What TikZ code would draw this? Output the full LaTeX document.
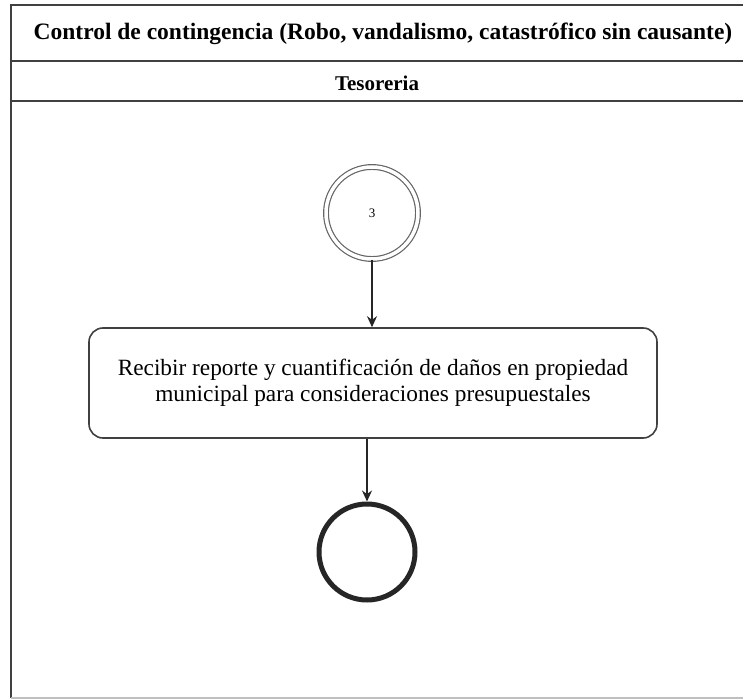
\documentclass[tikz,border=0pt]{standalone}
\usepackage{fontspec}
\setmainfont{Liberation Serif}
\usetikzlibrary{arrows.meta}
\begin{document}
\begin{tikzpicture}[x=1pt,y=-1pt,
  frameline/.style={draw=black!75,line width=1.8pt},
  headtext/.style={font=\fontsize{23.5}{26}\selectfont\bfseries,inner sep=0pt},
  lanetext/.style={font=\fontsize{21}{24}\selectfont\bfseries,inner sep=0pt},
  conn/.style={draw=black!85,line width=1.3pt,-{Stealth[length=11pt,width=10pt]}},
  actbox/.style={draw=black!75,line width=1.6pt,rounded corners=14pt,minimum width=568pt,minimum height=110pt,align=center,font=\fontsize{23.3}{25.5}\selectfont,inner sep=0pt},
  startc/.style={circle,draw=black!60,line width=1.2pt,double,double distance=3.5pt,minimum size=92pt,inner sep=0pt,font=\fontsize{13}{15}\selectfont},
  endc/.style={circle,draw=black!85,line width=5pt,minimum size=96pt,inner sep=0pt}]
\useasboundingbox (0,0) rectangle (743,700);
\fill[white] (0,0) rectangle (743,700);
\draw[frameline] (11,5) -- (743,5);
\draw[frameline] (11,61) -- (743,61);
\draw[frameline] (11,101) -- (743,101);
\draw[frameline] (11,4.1) -- (11,698);
\draw[draw=black!25,line width=1.2pt] (11,698) -- (743,698);
\node[headtext] (title) at (383,34) {Control de contingencia (Robo, vandalismo, catastrófico sin causante)};
\node[lanetext] (lane) at (377,83) {Tesoreria};
\node[startc] (start) at (372,213) {3};
\node[actbox] (act) at (373,383) {Recibir reporte y cuantificación de daños en propiedad\\municipal para consideraciones presupuestales};
\node[endc] (fin) at (367,552) {};
\draw[conn] (start.south) -- (start.south |- act.north);
\draw[conn] (act.south -| fin.north) -- (fin.north);
\end{tikzpicture}
\end{document}
